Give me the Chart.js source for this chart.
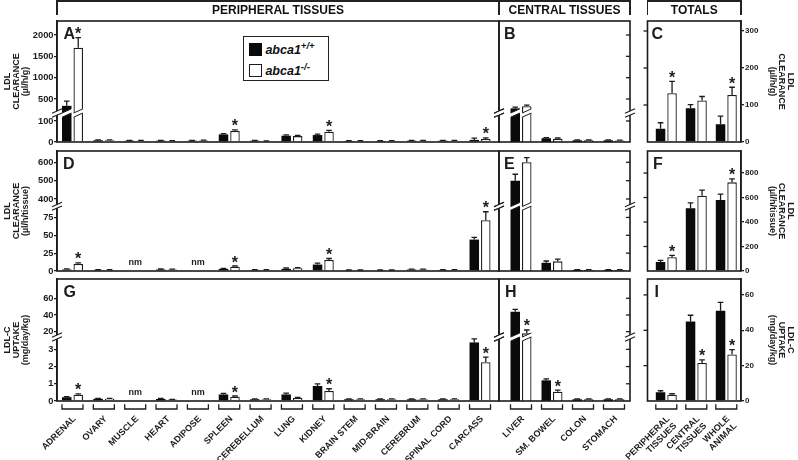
<!DOCTYPE html>
<html><head><meta charset="utf-8">
<script src="https://cdn.jsdelivr.net/npm/chart.js@4.4.1/dist/chart.umd.min.js"></script>
<style>
html,body{margin:0;padding:0;background:#fff}
#stage{position:relative;width:798px;height:460px;overflow:hidden;background:#fff;font-family:"Liberation Sans",Arial,Helvetica,sans-serif;color:#111}
#stage canvas{position:absolute;left:0;top:0}
.ln{position:absolute;background:#222}
.hd{position:absolute;top:4px;height:13px;line-height:13px;font-size:12px;font-weight:bold;text-align:center;white-space:nowrap}
#legend{position:absolute;left:243px;top:36px;width:86px;height:45px;box-sizing:border-box;border:1.6px solid #222;background:#fff}
.sw{position:absolute;width:13px;height:13px;box-sizing:border-box}
.lt{position:absolute;font-size:12.5px;line-height:12px;font-weight:bold;font-style:italic;white-space:nowrap}
.lt .sp{font-size:9.5px;position:relative;top:-5px}
</style></head>
<body><div id="stage"></div>
<script>
// ---------------- DATA ----------------
const peripheralTissues = ['ADRENAL','OVARY','MUSCLE','HEART','ADIPOSE','SPLEEN','CEREBELLUM','LUNG','KIDNEY','BRAIN STEM','MID-BRAIN','CEREBRUM','SPINAL CORD','CARCASS'];
const centralTissues = ['LIVER','SM. BOWEL','COLON','STOMACH'];
const totalGroups = [['PERIPHERAL','TISSUES'],['CENTRAL','TISSUES'],['WHOLE','ANIMAL']];
const genotypes = ['abca1+/+','abca1-/-'];

// Row 1: LDL clearance (µl/h/g)
const clrGramPeriWT    = [340, 8, 6, 6, 6, 36, 6, 30, 33, 5, 5, 6, 6, 10];
const clrGramPeriWTErr = [110, 2, 1.5, 1.5, 2, 4, 1.5, 4, 4, 1.5, 1.5, 1.5, 1.5, 8];
const clrGramPeriKO    = [1700, 8, 6, 5, 7, 53, 4, 28, 49, 5, 5, 6, 6, 14];
const clrGramPeriKOErr = [240, 2, 1.5, 1.5, 2, 5, 1.5, 4, 6, 1.5, 1.5, 1.5, 1.5, 6];
const clrGramPeriSig   = [1,0,0,0,0,1,0,0,1,0,0,0,0,1];
const clrGramCentWT    = [280, 18, 8, 8];
const clrGramCentWTErr = [30, 3, 2, 2];
const clrGramCentKO    = [330, 16, 8, 7];
const clrGramCentKOErr = [25, 3, 2, 2];
const clrGramCentSig   = [0,0,0,0];
const clrGramTotWT     = [36, 91, 48];
const clrGramTotWTErr  = [16, 10, 22];
const clrGramTotKO     = [132, 112, 127];
const clrGramTotKOErr  = [32, 11, 21];
const clrGramTotSig    = [1,0,1];

// Row 2: LDL clearance (µl/h/tissue)
const clrTisPeriWT     = [2, 1.5, null, 2, null, 3, 1.5, 3, 9, 1, 1, 2, 1.5, 44];
const clrTisPeriWTErr  = [1, 0.5, null, 0.8, null, 0.6, 0.5, 1.2, 2, 0.4, 0.4, 0.5, 0.5, 3];
const clrTisPeriKO     = [10, 1.5, null, 2, null, 6, 1.5, 4, 15.5, 1, 1, 2, 1.5, 71];
const clrTisPeriKOErr  = [1.5, 0.5, null, 0.6, null, 1, 0.5, 0.6, 2, 0.4, 0.4, 0.5, 0.5, 12];
const clrTisPeriSig    = [1,0,0,0,0,1,0,0,1,0,0,0,0,1];
const clrTisCentWT     = [500, 11.5, 1.5, 1.5];
const clrTisCentWTErr  = [35, 2.5, 0.5, 0.5];
const clrTisCentKO     = [600, 13.5, 1.5, 1.5];
const clrTisCentKOErr  = [25, 3, 0.5, 0.5];
const clrTisCentSig    = [0,0,0,0];
const clrTisTotWT      = [73, 513, 580];
const clrTisTotWTErr   = [13, 43, 47];
const clrTisTotKO      = [113, 615, 724];
const clrTisTotKOErr   = [14, 45, 29];
const clrTisTotSig     = [1,0,1];

// Row 3: LDL-C uptake (mg/day/kg)
const uptPeriWT        = [0.22, 0.13, null, 0.12, null, 0.38, 0.1, 0.38, 0.87, 0.1, 0.1, 0.1, 0.1, 3.4];
const uptPeriWTErr     = [0.03, 0.02, null, 0.03, null, 0.06, 0.02, 0.08, 0.13, 0.02, 0.02, 0.02, 0.02, 0.3];
const uptPeriKO        = [0.37, 0.13, null, 0.08, null, 0.25, 0.1, 0.17, 0.58, 0.1, 0.1, 0.1, 0.1, 2.25];
const uptPeriKOErr     = [0.04, 0.02, null, 0.02, null, 0.04, 0.02, 0.04, 0.13, 0.02, 0.02, 0.02, 0.02, 0.3];
const uptPeriSig       = [1,0,0,0,0,1,0,0,1,0,0,0,0,1];
const uptCentWT        = [44, 1.2, 0.1, 0.1];
const uptCentWTErr     = [2.8, 0.08, 0.02, 0.02];
const uptCentKO        = [18, 0.54, 0.1, 0.1];
const uptCentKOErr     = [4, 0.09, 0.02, 0.02];
const uptCentSig       = [1,1,0,0];
const uptTotWT         = [5, 45, 51];
const uptTotWTErr      = [0.8, 3.5, 4.8];
const uptTotKO         = [3.5, 21.5, 26.3];
const uptTotKOErr      = [0.6, 1.8, 2.7];
const uptTotSig        = [0,1,1];

// Tick labels
const ticksA = [0, 100, 500, 1000, 1500, 2000];
const ticksC = [0, 100, 200, 300];
const ticksD = [0, 25, 50, 75, 400, 500, 600];
const ticksF = [0, 200, 400, 600, 800];
const ticksG = [0, 1, 2, 3, 20, 40, 60];
const ticksI = [0, 20, 40, 60];

const titleGram = ['LDL','CLEARANCE','(µl/h/g)'];
const titleTis  = ['LDL','CLEARANCE','(µl/h/tissue)'];
const titleUpt  = ['LDL-C','UPTAKE','(mg/day/kg)'];

// ---------------- SETUP ----------------
const stage = document.getElementById('stage');
const W = 798, H = 460, INK = '#1c1c1c', BLACK = '#0a0a0a';
const FONT = '"Liberation Sans", Arial, Helvetica, sans-serif';
const META = new WeakMap();

class BrokenScale extends Chart.LinearScale {
  static id = 'broken';
  buildTicks() { return Array.from(this.options.tickValues || []).map(v => ({value: v})); }
  _frac(v) {
    const b = this.options.brk, a = this.min, z = this.max;
    if (!b) return (v - a) / (z - a);
    if (v <= b.lo) return (v - a) / (b.lo - a) * b.f1;
    if (v >= b.hi) return b.f2 + (v - b.hi) / (z - b.hi) * (1 - b.f2);
    return b.f1 + (v - b.lo) / (b.hi - b.lo) * (b.f2 - b.f1);
  }
  getPixelForValue(v) { return v == null ? NaN : this.getPixelForDecimal(this._frac(v)); }
  getValueForPixel(px) {
    const d = this.getDecimalForPixel(px), b = this.options.brk;
    if (!b) return this.min + d * (this.max - this.min);
    if (d <= b.f1) return this.min + d / b.f1 * (b.lo - this.min);
    if (d >= b.f2) return b.hi + (d - b.f2) / (1 - b.f2) * (this.max - b.hi);
    return b.lo + (d - b.f1) / (b.f2 - b.f1) * (b.hi - b.lo);
  }
}
Chart.register(BrokenScale);

function line(ctx, x1, y1, x2, y2) { ctx.beginPath(); ctx.moveTo(x1, y1); ctx.lineTo(x2, y2); ctx.stroke(); }

const deco = {
  id: 'deco',
  afterDraw(chart) {
    const p = META.get(chart.canvas); if (!p) return;
    const ctx = chart.ctx, ca = chart.chartArea, xs = chart.scales.x, ys = chart.scales.y;
    const wtEl = chart.getDatasetMeta(0).data, koEl = chart.getDatasetMeta(1).data;
    ctx.save();
    ctx.strokeStyle = INK; ctx.fillStyle = INK;
    // frame
    ctx.lineWidth = 1.6;
    ctx.strokeRect(ca.left, ca.top, ca.right - ca.left, ca.bottom - ca.top);
    // error bars
    [[wtEl, p.wt, p.wtErr], [koEl, p.ko, p.koErr]].forEach(([els, vals, errs]) => {
      els.forEach((el, j) => {
        const v = vals[j], e = errs[j];
        if (v == null || !e) return;
        const y0 = ys.getPixelForValue(v), y1 = ys.getPixelForValue(v + e);
        ctx.lineWidth = 1.3;
        ctx.beginPath(); ctx.moveTo(el.x, y0); ctx.lineTo(el.x, y1);
        ctx.moveTo(el.x - 2.8, y1); ctx.lineTo(el.x + 2.8, y1); ctx.stroke();
      });
    });
    // axis break
    if (p.brk) {
      const yl = ys.getPixelForValue(p.brk.lo), yh = ys.getPixelForValue(p.brk.hi);
      const ym = (yl + yh) / 2, g = Math.max((yl - yh) / 2, 1.6), s = 0.45;
      [[wtEl, p.wt], [koEl, p.ko]].forEach(([els, vals]) => {
        els.forEach((el, j) => {
          const v = vals[j]; if (v == null || v < p.brk.hi) return;
          const hw = el.width / 2 + 1, x = el.x;
          ctx.fillStyle = '#fff';
          ctx.beginPath();
          ctx.moveTo(x - hw, ym + g + s * hw); ctx.lineTo(x + hw, ym + g - s * hw);
          ctx.lineTo(x + hw, ym - g - s * hw); ctx.lineTo(x - hw, ym - g + s * hw);
          ctx.closePath(); ctx.fill();
          const iw = el.width / 2 - 0.2;
          ctx.lineWidth = 1;
          ctx.beginPath();
          ctx.moveTo(x - iw, ym + g + s * iw); ctx.lineTo(x + iw, ym + g - s * iw);
          ctx.moveTo(x - iw, ym - g + s * iw); ctx.lineTo(x + iw, ym - g - s * iw);
          ctx.stroke();
        });
      });
      [ca.left, ca.right].forEach(x => {
        ctx.fillStyle = '#fff';
        ctx.beginPath();
        ctx.moveTo(x - 2.5, ym + g + 1.1); ctx.lineTo(x + 2.5, ym + g - 1.1);
        ctx.lineTo(x + 2.5, ym - g - 1.1); ctx.lineTo(x - 2.5, ym - g + 1.1);
        ctx.closePath(); ctx.fill();
        ctx.lineWidth = 1.1;
        ctx.beginPath();
        ctx.moveTo(x - 5, ym + g + 2.2); ctx.lineTo(x + 5, ym + g - 2.2);
        ctx.moveTo(x - 5, ym - g + 2.2); ctx.lineTo(x + 5, ym - g - 2.2);
        ctx.stroke();
      });
    }
    ctx.fillStyle = INK;
    // mirrored ticks
    ctx.lineWidth = 1.3;
    if (p.inTicksRight) ys.ticks.forEach(t => { if (t.value > 0) { const y = ys.getPixelForValue(t.value); line(ctx, ca.right - 4, y, ca.right, y); } });
    if (p.outTicksLeft) ys.ticks.forEach(t => { if (t.value > 0) { const y = ys.getPixelForValue(t.value); line(ctx, ca.left - 4, y, ca.left, y); } });
    // panel letter
    ctx.font = 'bold 16px ' + FONT; ctx.textAlign = 'left'; ctx.textBaseline = 'alphabetic';
    ctx.fillText(p.letter, ca.left + p.letterDx, ca.top + 18);
    // significance asterisks
    ctx.font = 'bold 16px ' + FONT; ctx.textAlign = 'center';
    const m = ctx.measureText('*');
    const half = (m.actualBoundingBoxAscent - m.actualBoundingBoxDescent) / 2;
    p.sig.forEach((sg, j) => {
      if (!sg || p.ko[j] == null) return;
      const top = ys.getPixelForValue(p.ko[j] + (p.koErr[j] || 0));
      ctx.fillText('*', koEl[j].x, top - 7 + half);
    });
    // not measured
    ctx.font = 'bold 9px ' + FONT; ctx.textBaseline = 'middle';
    p.wt.forEach((v, j) => { if (v == null && p.ko[j] == null) ctx.fillText('nm', xs.getPixelForValue(j), ca.bottom - 8); });
    // brackets under categories
    if (p.xLabels) {
      ctx.lineWidth = 1.3;
      p.cats.forEach((c, j) => {
        const x = xs.getPixelForValue(j);
        ctx.beginPath(); ctx.moveTo(x - 10.5, ca.bottom + 3.3); ctx.lineTo(x - 10.5, ca.bottom + 8);
        ctx.lineTo(x + 10.5, ca.bottom + 8); ctx.lineTo(x + 10.5, ca.bottom + 3.3); ctx.stroke();
      });
    }
    ctx.restore();
  }
};

function panel(p) {
  const canvas = document.createElement('canvas');
  canvas.width = W; canvas.height = H;
  stage.appendChild(canvas);
  META.set(canvas, p);
  const yW = p.yPos === 'left' ? p.l : (p.yPos === 'right' ? W - p.r : 0);
  const xH = p.xLabels ? H - p.b : 0;
  const pts = vals => vals.map((v, i) => ({x: i, y: v}));
  new Chart(canvas, {
    type: 'bar',
    data: {datasets: [
      {label: genotypes[0], data: pts(p.wt), backgroundColor: BLACK, borderColor: BLACK, borderWidth: 0},
      {label: genotypes[1], data: pts(p.ko), backgroundColor: '#ffffff', borderColor: INK, borderWidth: 1.3}
    ]},
    options: {
      responsive: false, animation: false, devicePixelRatio: 1, events: [],
      layout: {padding: {
        left: p.yPos === 'left' ? 0 : p.l,
        right: p.yPos === 'right' ? 0 : W - p.r,
        top: p.t,
        bottom: p.xLabels ? 0 : H - p.b}},
      datasets: {bar: {categoryPercentage: 23 / p.spacing, barPercentage: 0.826}},
      plugins: {legend: {display: false}, tooltip: {enabled: false}},
      scales: {
        x: {
          type: 'linear', min: p.xMin, max: p.xMax, offset: false,
          display: !!p.xLabels,
          grid: {display: false, offset: false}, border: {display: false},
          afterBuildTicks: s => { s.ticks = p.cats.map((_, i) => ({value: i})); },
          ticks: {autoSkip: false, minRotation: 45, maxRotation: 45, padding: 5, labelOffset: 2, color: INK,
                  font: {family: FONT, size: 9, weight: 'bold', lineHeight: 1.1},
                  callback: v => p.cats[v]},
          afterFit: s => { s.height = xH; s.paddingLeft = 0; s.paddingRight = 0; s.paddingTop = 0; s.paddingBottom = 0; }
        },
        y: {
          type: 'broken', position: p.yPos === 'right' ? 'right' : 'left',
          display: p.yPos !== 'none',
          min: 0, max: p.yMax, tickValues: p.yTicks, brk: p.brk || null,
          grid: {display: true, drawOnChartArea: false, drawTicks: true, tickLength: 3, color: INK, lineWidth: 1.3},
          border: {display: true, color: INK, width: 1.6},
          ticks: {color: INK, padding: p.yPos === 'right' ? 1 : 0.5,
                  font: {family: FONT, size: p.yPos === 'right' ? 8 : 9.3, weight: 'bold'},
                  callback: v => String(v)},
          title: {display: !!p.title, text: p.title, color: INK,
                  font: {family: FONT, size: 9, weight: 'bold', lineHeight: 1},
                  padding: {top: p.yPos === 'left' ? 3 : 3.5, bottom: 0}},
          afterFit: s => { s.width = yW; s.paddingTop = 0; s.paddingBottom = 0; s.paddingLeft = 0; s.paddingRight = 0; }
        }
      }
    },
    plugins: [deco]
  });
}

const rowA = {t: 21, b: 142}, rowD = {t: 151, b: 271}, rowG = {t: 279, b: 401};
const colP = {l: 57, r: 499, xMin: -0.494, xMax: 13.605, spacing: 31.35, cats: peripheralTissues, yPos: 'left'};
const colCt = {l: 499, r: 630, xMin: -0.71, xMax: 3.516, spacing: 31, cats: centralTissues, yPos: 'none', inTicksRight: true};
const colT = {l: 647.5, r: 741, xMin: -0.627, xMax: 2.49, spacing: 30, cats: totalGroups, yPos: 'right', outTicksLeft: true};
const brkA = {lo: 128, hi: 220, f1: 0.2223, f2: 0.2566};
const brkD = {lo: 88, hi: 370, f1: 0.5236, f2: 0.5542};
const brkG = {lo: 3.6, hi: 16, f1: 0.5082, f2: 0.541};

panel({...colP, ...rowA, letter: 'A', letterDx: 6.5, title: titleGram, yMax: 2328, yTicks: ticksA, brk: brkA,
  wt: clrGramPeriWT, wtErr: clrGramPeriWTErr, ko: clrGramPeriKO, koErr: clrGramPeriKOErr, sig: clrGramPeriSig});
panel({...colCt, ...rowA, letter: 'B', letterDx: 5, yMax: 2328, yTicks: ticksA, brk: brkA,
  wt: clrGramCentWT, wtErr: clrGramCentWTErr, ko: clrGramCentKO, koErr: clrGramCentKOErr, sig: clrGramCentSig});
panel({...colT, ...rowA, letter: 'C', letterDx: 4, title: titleGram, yMax: 327, yTicks: ticksC,
  wt: clrGramTotWT, wtErr: clrGramTotWTErr, ko: clrGramTotKO, koErr: clrGramTotKOErr, sig: clrGramTotSig});

panel({...colP, ...rowD, letter: 'D', letterDx: 6, title: titleTis, yMax: 661.6, yTicks: ticksD, brk: brkD,
  wt: clrTisPeriWT, wtErr: clrTisPeriWTErr, ko: clrTisPeriKO, koErr: clrTisPeriKOErr, sig: clrTisPeriSig});
panel({...colCt, ...rowD, letter: 'E', letterDx: 5, yMax: 661.6, yTicks: ticksD, brk: brkD,
  wt: clrTisCentWT, wtErr: clrTisCentWTErr, ko: clrTisCentKO, koErr: clrTisCentKOErr, sig: clrTisCentSig});
panel({...colT, ...rowD, letter: 'F', letterDx: 5.5, title: titleTis, yMax: 980, yTicks: ticksF,
  wt: clrTisTotWT, wtErr: clrTisTotWTErr, ko: clrTisTotKO, koErr: clrTisTotKOErr, sig: clrTisTotSig});

panel({...colP, ...rowG, letter: 'G', letterDx: 6.5, title: titleUpt, yMax: 83.1, yTicks: ticksG, brk: brkG, xLabels: true,
  wt: uptPeriWT, wtErr: uptPeriWTErr, ko: uptPeriKO, koErr: uptPeriKOErr, sig: uptPeriSig});
panel({...colCt, ...rowG, letter: 'H', letterDx: 6, yMax: 83.1, yTicks: ticksG, brk: brkG, xLabels: true,
  wt: uptCentWT, wtErr: uptCentWTErr, ko: uptCentKO, koErr: uptCentKOErr, sig: uptCentSig});
panel({...colT, ...rowG, letter: 'I', letterDx: 7, title: titleUpt, yMax: 69, yTicks: ticksI, xLabels: true,
  wt: uptTotWT, wtErr: uptTotWTErr, ko: uptTotKO, koErr: uptTotKOErr, sig: uptTotSig});

// ---------------- HEADER & LEGEND (HTML) ----------------
function div(cls, style, html) { const d = document.createElement('div'); d.className = cls; d.style.cssText = style; if (html) d.innerHTML = html; stage.appendChild(d); return d; }
div('ln', 'left:56.2px;top:0;width:574.6px;height:1.6px');
div('ln', 'left:56.2px;top:0;width:1.6px;height:15px');
div('ln', 'left:498.2px;top:0;width:1.6px;height:15px');
div('ln', 'left:629.2px;top:0;width:1.6px;height:15px');
div('ln', 'left:646.7px;top:0;width:95.1px;height:1.6px');
div('ln', 'left:646.7px;top:0;width:1.6px;height:15px');
div('ln', 'left:740.2px;top:0;width:1.6px;height:15px');
div('hd', 'left:57px;width:442px', 'PERIPHERAL TISSUES');
div('hd', 'left:499px;width:131px', 'CENTRAL TISSUES');
div('hd', 'left:647.5px;width:93.5px', 'TOTALS');
const lg = div('', '', ''); lg.id = 'legend';
lg.innerHTML =
  '<div class="sw" style="left:5.4px;top:6.1px;background:#0a0a0a"></div>' +
  '<div class="lt" style="left:21.4px;top:7.2px">abca1<span class="sp">+/+</span></div>' +
  '<div class="sw" style="left:5.4px;top:26.7px;background:#fff;border:1.5px solid #1c1c1c"></div>' +
  '<div class="lt" style="left:21.4px;top:27.7px">abca1<span class="sp">-/-</span></div>';
</script>
</body></html>
